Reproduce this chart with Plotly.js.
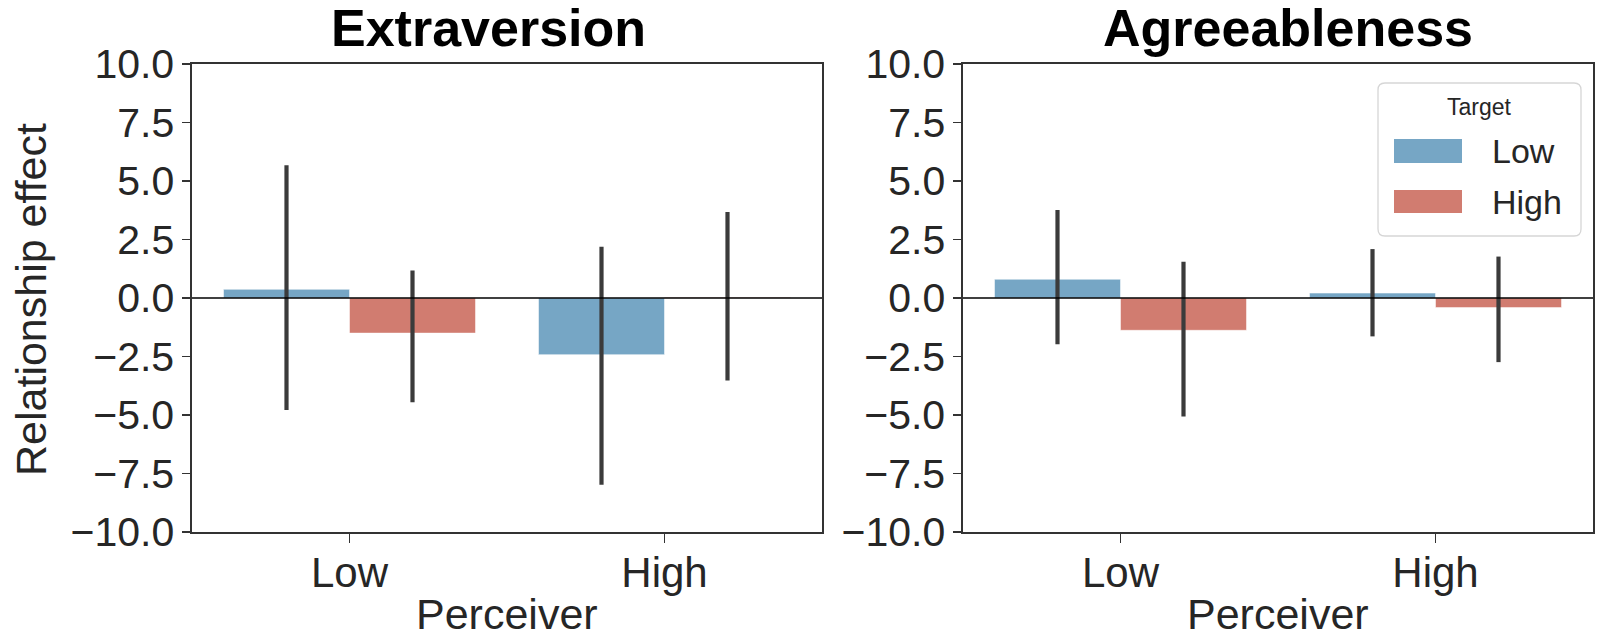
<!DOCTYPE html>
<html>
<head>
<meta charset="utf-8">
<script src="https://cdn.plot.ly/plotly-3.0.1.min.js"></script>
<style>
  html, body { margin: 0; padding: 0; background: #ffffff; }
  #chart { width: 1606px; height: 638px; }
</style>
</head>
<body>
<div id="chart"></div>
<script>
// ---------------- data ----------------
const perceiverCategories = ['Low', 'High'];
const targetLabels = ['Low', 'High'];
const panelTitles = ['Extraversion', 'Agreeableness'];
const xAxisTitle = 'Perceiver';
const yAxisTitle = 'Relationship effect';
const legendTitle = 'Target';

// Extraversion, target Low / High (per perceiver Low, High)
const extLowMean  = [0.37, -2.42];
const extLowUpper = [5.67, 2.19];
const extLowLower = [-4.79, -7.98];
const extHighMean  = [-1.50, 0.03];
const extHighUpper = [1.17, 3.68];
const extHighLower = [-4.46, -3.53];

// Agreeableness
const agrLowMean  = [0.80, 0.21];
const agrLowUpper = [3.76, 2.09];
const agrLowLower = [-1.98, -1.64];
const agrHighMean  = [-1.38, -0.41];
const agrHighUpper = [1.55, 1.77];
const agrHighLower = [-5.06, -2.74];

const yTickVals = [-10, -7.5, -5, -2.5, 0, 2.5, 5, 7.5, 10];
const yTickText = ['\u221210.0', '\u22127.5', '\u22125.0', '\u22122.5', '0.0', '2.5', '5.0', '7.5', '10.0'];

// ---------------- style ----------------
const W = 1606, H = 638;
const colLow = '#76a6c5';
const colHigh = '#d17c70';
const errColor = '#3b3b3b';
const txtColor = '#262626';
const axColor = '#333333';
const FONT = 'Liberation Sans, Arial, Helvetica, sans-serif';

function px(x) { return x / W; }
function py(y) { return 1 - y / H; }

function barTrace(name, means, upper, lower, color, xa, ya) {
  return {
    type: 'bar',
    name: name,
    x: perceiverCategories,
    y: means,
    xaxis: xa, yaxis: ya,
    marker: { color: color, line: { color: 'rgba(255,255,255,0.5)', width: 1 } },
    error_y: {
      type: 'data', symmetric: false,
      array: upper.map((u, i) => u - means[i]),
      arrayminus: lower.map((l, i) => means[i] - l),
      color: errColor, thickness: 4.2, width: 0
    },
    showlegend: false,
    hoverinfo: 'skip'
  };
}

const data = [
  barTrace(targetLabels[0], extLowMean, extLowUpper, extLowLower, colLow, 'x', 'y'),
  barTrace(targetLabels[1], extHighMean, extHighUpper, extHighLower, colHigh, 'x', 'y'),
  barTrace(targetLabels[0], agrLowMean, agrLowUpper, agrLowLower, colLow, 'x2', 'y2'),
  barTrace(targetLabels[1], agrHighMean, agrHighUpper, agrHighLower, colHigh, 'x2', 'y2')
];

const yDom = [py(532), py(64)];
function xAxis(dom, anchor) {
  return {
    domain: dom, anchor: anchor,
    type: 'category', range: [-0.5, 1.5],
    showline: true, mirror: true, linecolor: axColor, linewidth: 1.6,
    ticks: 'outside', ticklen: 9, tickwidth: 1.4, tickcolor: axColor,
    tickfont: { family: FONT, size: 42, color: txtColor },
    ticklabelstandoff: -6,
    showgrid: false, zeroline: false, automargin: false
  };
}
function yAxis(anchor) {
  return {
    domain: yDom, anchor: anchor,
    range: [-10, 10], tickvals: yTickVals, ticktext: yTickText,
    showline: true, mirror: true, linecolor: axColor, linewidth: 1.6,
    ticks: 'outside', ticklen: 8, tickwidth: 1.4, tickcolor: axColor,
    tickfont: { family: FONT, size: 41, color: txtColor },
    showgrid: false, zeroline: false, automargin: false
  };
}

// custom legend (box, swatches, labels)
function roundRectPath(x0, y0, x1, y1, r) {
  const rx = r / W, ry = r / H;
  const X0 = px(x0), X1 = px(x1), Yt = py(y0), Yb = py(y1);
  return `M${X0 + rx},${Yt} L${X1 - rx},${Yt} Q${X1},${Yt} ${X1},${Yt - ry} ` +
         `L${X1},${Yb + ry} Q${X1},${Yb} ${X1 - rx},${Yb} L${X0 + rx},${Yb} ` +
         `Q${X0},${Yb} ${X0},${Yb + ry} L${X0},${Yt - ry} Q${X0},${Yt} ${X0 + rx},${Yt} Z`;
}

const shapes = [
  { type: 'line', xref: 'x domain', yref: 'y', x0: 0, x1: 1, y0: 0, y1: 0, line: { color: '#000000', width: 1.6 }, layer: 'above' },
  { type: 'line', xref: 'x2 domain', yref: 'y2', x0: 0, x1: 1, y0: 0, y1: 0, line: { color: '#000000', width: 1.6 }, layer: 'above' },
  { type: 'path', xref: 'paper', yref: 'paper', path: roundRectPath(1378, 83, 1581, 236, 7),
    fillcolor: 'rgba(255,255,255,0.8)', line: { color: '#d6d6d6', width: 1.3 }, layer: 'above' },
  { type: 'rect', xref: 'paper', yref: 'paper', x0: px(1394), x1: px(1462), y0: py(163), y1: py(139),
    fillcolor: colLow, line: { width: 0 }, layer: 'above' },
  { type: 'rect', xref: 'paper', yref: 'paper', x0: px(1394), x1: px(1462), y0: py(213), y1: py(190),
    fillcolor: colHigh, line: { width: 0 }, layer: 'above' }
];

const annotations = [
  { text: panelTitles[0], xref: 'paper', yref: 'paper', x: px(488), y: py(28), xanchor: 'center', yanchor: 'middle',
    showarrow: false, font: { family: FONT, size: 52, color: '#000000', weight: 'bold' } },
  { text: panelTitles[1], xref: 'paper', yref: 'paper', x: px(1288), y: py(28), xanchor: 'center', yanchor: 'middle',
    showarrow: false, font: { family: FONT, size: 52, color: '#000000', weight: 'bold' } },
  { text: yAxisTitle, xref: 'paper', yref: 'paper', x: px(31), y: py(300), xanchor: 'center', yanchor: 'middle',
    textangle: -90, showarrow: false, font: { family: FONT, size: 43, color: txtColor } },
  { text: xAxisTitle, xref: 'paper', yref: 'paper', x: px(507), y: py(614), xanchor: 'center', yanchor: 'middle',
    showarrow: false, font: { family: FONT, size: 43, color: txtColor } },
  { text: xAxisTitle, xref: 'paper', yref: 'paper', x: px(1278), y: py(614), xanchor: 'center', yanchor: 'middle',
    showarrow: false, font: { family: FONT, size: 43, color: txtColor } },
  { text: legendTitle, xref: 'paper', yref: 'paper', x: px(1479), y: py(107), xanchor: 'center', yanchor: 'middle',
    showarrow: false, font: { family: FONT, size: 23, color: txtColor } },
  { text: targetLabels[0], xref: 'paper', yref: 'paper', x: px(1490), y: py(151), xanchor: 'left', yanchor: 'middle',
    showarrow: false, font: { family: FONT, size: 34, color: txtColor } },
  { text: targetLabels[1], xref: 'paper', yref: 'paper', x: px(1490), y: py(202), xanchor: 'left', yanchor: 'middle',
    showarrow: false, font: { family: FONT, size: 34, color: txtColor } }
];

const layout = {
  width: W, height: H,
  margin: { l: 0, r: 0, t: 0, b: 0, pad: 0 },
  paper_bgcolor: '#ffffff', plot_bgcolor: '#ffffff',
  barmode: 'group', bargap: 0.2, bargroupgap: 0,
  showlegend: false,
  font: { family: FONT, color: txtColor },
  xaxis: xAxis([px(192), px(822)], 'y'),
  yaxis: yAxis('x'),
  xaxis2: xAxis([px(963), px(1593)], 'y2'),
  yaxis2: yAxis('x2'),
  shapes: shapes,
  annotations: annotations
};

Plotly.newPlot('chart', data, layout, { staticPlot: true, displayModeBar: false });
</script>
</body>
</html>
